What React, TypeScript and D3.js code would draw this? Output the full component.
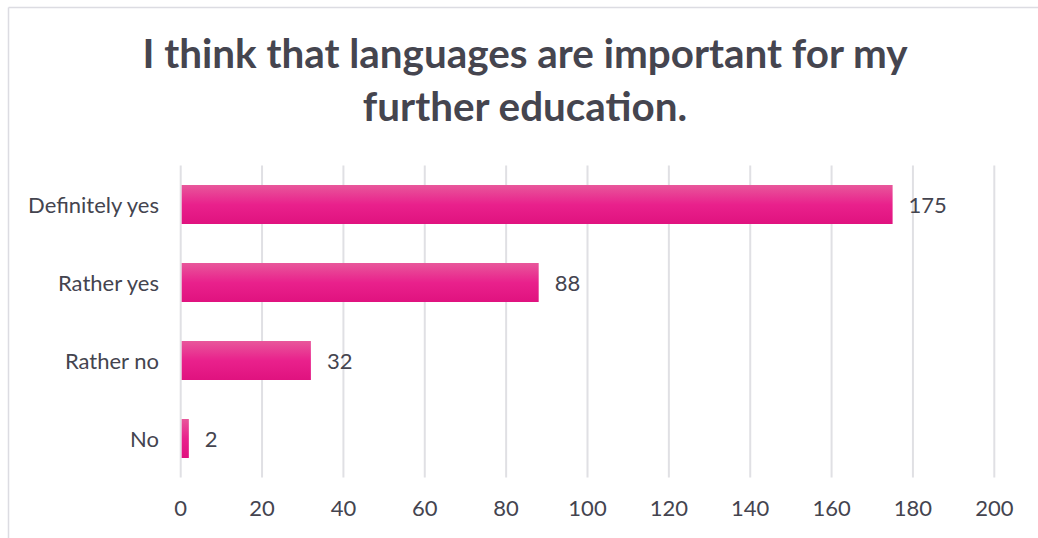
import React from "react";
import * as d3 from "d3";

const categories = ["Definitely yes", "Rather yes", "Rather no", "No"];
const values = [175, 88, 32, 2];
const xTicks = [0, 20, 40, 60, 80, 100, 120, 140, 160, 180, 200];
const titleLines = ["I think that languages are important for my", "further education."];

const W = 1038;
const H = 538;
const FONT = "Lato, 'Open Sans', sans-serif";
const TEXT = "#44444f";

export default function App() {
  const x = d3.scaleLinear().domain([0, 200]).range([180.7, 994.3]);
  const y = d3.scaleBand<string>().domain(categories).range([165.5, 477.5]).paddingInner(0.5).paddingOuter(0.25);
  return (
    <svg width={W} height={H} style={{ position: "absolute", left: 0, top: 0 }}>
      <defs>
        <linearGradient id="barGrad" x1="0" y1="0" x2="0" y2="1">
          <stop offset="0" stopColor="#e8579b" />
          <stop offset="0.5" stopColor="#e9218c" />
          <stop offset="1" stopColor="#e0127f" />
        </linearGradient>
      </defs>
      <rect x={0} y={0} width={W} height={H} fill="#fff" />
      <line x1={8.5} x2={W} y1={7.5} y2={7.5} stroke="#dcdce2" strokeWidth={1.5} />
      <line x1={8.5} x2={8.5} y1={7.5} y2={H} stroke="#dcdce2" strokeWidth={1.5} />
      {titleLines.map((t, i) => (
        <text key={t} x={525} y={68 + i * 53} textAnchor="middle" fontFamily={FONT} fontWeight={700}
          fontSize={40.4} fill="#45454f">{t}</text>
      ))}
      {xTicks.map((t) => (
        <g key={t}>
          <line x1={x(t)} x2={x(t)} y1={165.5} y2={477.5} stroke="#e0e0e4" strokeWidth={2} />
          <text x={x(t)} y={516} textAnchor="middle" fontFamily={FONT} fontSize={22} fill={TEXT}>{t}</text>
        </g>
      ))}
      {categories.map((c, i) => (
        <g key={c}>
          <rect x={x(0) + 1} y={y(c)} width={x(values[i]) - x(0) - 1} height={y.bandwidth()} fill="url(#barGrad)" />
          <text x={159} y={(y(c) as number) + y.bandwidth() / 2 + 8} textAnchor="end" fontFamily={FONT}
            fontSize={22} fill={TEXT}>{c}</text>
          <text x={x(values[i]) + 16} y={(y(c) as number) + y.bandwidth() / 2 + 8} fontFamily={FONT}
            fontSize={22} fill={TEXT}>{values[i]}</text>
        </g>
      ))}
    </svg>
  );
}
